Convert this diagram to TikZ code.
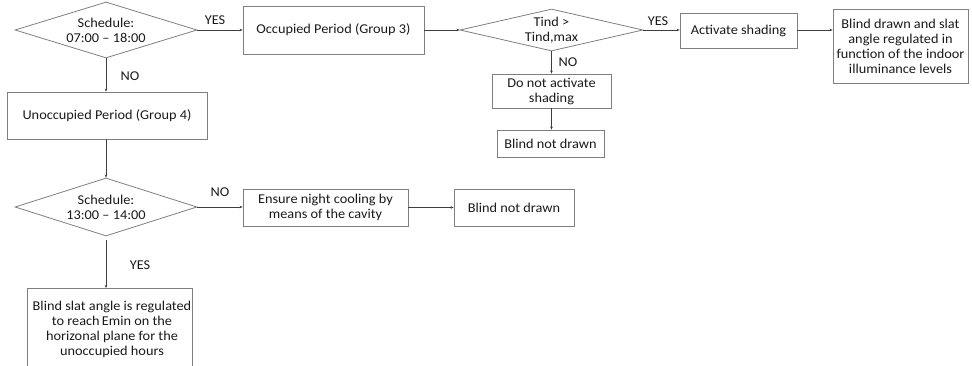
\documentclass[tikz,border=0pt]{standalone}
\usepackage{fontspec}
\setmainfont{Carlito}[FakeStretch=1.06]
\usetikzlibrary{shapes.geometric,arrows.meta}
\definecolor{txt}{HTML}{1A1A1A}
\definecolor{edge}{HTML}{7F7F7F}
\definecolor{wire}{HTML}{3F3F3F}
\begin{document}
\begin{tikzpicture}[x=1pt,y=-1pt,
  every node/.style={text=txt,font=\fontsize{13.5}{15}\selectfont},
  procbox/.style={draw=edge,line width=0.8pt,rectangle,inner sep=0pt,align=center},
  decision/.style={draw=edge,line width=0.8pt,diamond,inner sep=0pt,aspect=3.2},
  flow/.style={draw=wire,line width=0.6pt,-{Stealth[length=3pt,width=2.6pt]}},
  branch/.style={inner sep=0pt}]
\useasboundingbox (0,0) rectangle (972,366);
\clip (0,0) rectangle (972,366);

% decisions
\node[decision,minimum width=182,minimum height=56] (d1) at (106,30) {};
\node[align=center,inner sep=0pt] (d1t) at (d1.center) {Schedule:\\07:00 – 18:00};
\node[decision,minimum width=183,minimum height=42,aspect=4.3] (d2) at (551.5,30) {};
\node[align=center,inner sep=0pt] (d2t) at (d2.center) {Tind >\\Tind,max};
\node[decision,minimum width=182,minimum height=58] (d3) at (106,207) {};
\node[align=center,inner sep=0pt] (d3t) at (d3.center) {Schedule:\\13:00 – 14:00};

% process boxes
\node[procbox,minimum width=181,minimum height=48] (occ) at (333.5,30) {Occupied Period (Group 3)};
\node[procbox,minimum width=117,minimum height=35] (act) at (738.5,30.5) {Activate shading};
\node[procbox,minimum width=135,minimum height=74] (bd) at (900.5,46.5)
  {Blind drawn and slat\\angle regulated in\\function of the indoor\\illuminance levels};
\node[procbox,minimum width=119,minimum height=34] (dna) at (551.5,91) {Do not activate\\shading};
\node[procbox,minimum width=107,minimum height=27] (bnd1) at (550.5,143.5) {Blind not drawn};
\node[procbox,minimum width=200,minimum height=47] (unocc) at (107,115.5) {Unoccupied Period (Group 4)};
\node[procbox,minimum width=165,minimum height=37] (ens) at (325.5,207.5) {Ensure night cooling by\\means of the cavity};
\node[procbox,minimum width=120,minimum height=37] (bnd2) at (514,207.5) {Blind not drawn};
\node[procbox,minimum width=165,minimum height=92,anchor=north] (slat) at (109.5,288) {};
\node[align=center,inner sep=0pt,anchor=north] (slatt) at (112,300.5)
  {Blind slat angle is regulated\\to reach\,Emin on the\\horizonal plane for the\\unoccupied hours};

% connectors
\draw[flow] (d1.east) -- (occ.west);
\draw[flow] (d1.south) -- (unocc.north -| d1.south);
\draw[flow] (occ.east) -- (d2.west);
\draw[flow] (d2.east) -- (act.west |- d2.east);
\draw[flow] (act.east |- d2.east) -- (bd.west |- d2.east);
\draw[flow] (d2.south) -- (dna.north -| d2.south);
\draw[flow] (dna.south -| d2.south) -- (bnd1.north -| d2.south);
\draw[flow] (unocc.south -| d3.north) -- (d3.north);
\draw[flow] (d3.east) -- (ens.west |- d3.east);
\draw[flow] (ens.east) -- (bnd2.west);
\draw[flow,shorten <=4pt] (d3.south) -- (slat.north -| d3.south);

% branch labels
\node[branch] (y1) at (215,20) {YES};
\node[branch] (n1) at (130,76) {NO};
\node[branch] (y2) at (658,21) {YES};
\node[branch] (n2) at (568,62) {NO};
\node[branch] (n3) at (220,192) {NO};
\node[branch] (y3) at (140,265) {YES};
\end{tikzpicture}
\end{document}
